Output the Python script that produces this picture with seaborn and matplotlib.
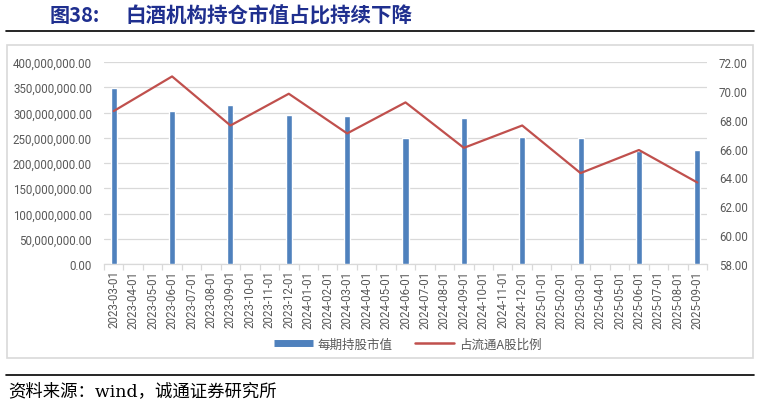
import matplotlib
matplotlib.use("Agg")
import matplotlib.pyplot as plt
import seaborn as sns
import pandas as pd
from matplotlib.lines import Line2D
from matplotlib.patches import Rectangle
from matplotlib.ticker import FuncFormatter, MultipleLocator

# ---------------- data ----------------
months = [f"{y}-{m:02d}-01" for y, m in
          [(2023, m) for m in range(3, 13)] + [(2024, m) for m in range(1, 13)] + [(2025, m) for m in range(1, 10)]]
quarters = ["2023-03-01", "2023-06-01", "2023-09-01", "2023-12-01",
            "2024-03-01", "2024-06-01", "2024-09-01", "2024-12-01",
            "2025-03-01", "2025-06-01", "2025-09-01"]
market_value = [348.5e6, 303e6, 315.5e6, 294.5e6, 292.5e6, 249e6,
                288.5e6, 251.5e6, 249e6, 224e6, 226e6]
ratio = [68.6, 71.0, 67.6, 69.8, 67.05, 69.2, 66.05, 67.6, 64.3, 65.9, 63.65]

bar_label = "每期持股市值"
line_label = "占流通A股比例"
title_num = "图38:"
title_text = "白酒机构持仓市值占比持续下降"
source_text = "资料来源：wind，诚通证券研究所"

# ---------------- style ----------------
sns.set_theme(style="white")
plt.rcParams['font.family'] = ['Roboto', 'Noto Sans CJK SC', 'DejaVu Sans']
BAR_C = "#4F81BD"
LINE_C = "#C0504D"
GRID_C = "#D9D9D9"
TXT_C = "#595959"

fig = plt.figure(figsize=(7.6, 4.06), dpi=100)
ax = fig.add_axes([104/760, 1 - 265/406, (707-104)/760, (265-63)/406])

df = pd.DataFrame({"month": quarters, "value": market_value, "ratio": ratio})
sns.barplot(data=df, x="month", y="value", order=months, color=BAR_C,
            width=0.31, saturation=1, ax=ax, zorder=3)

ax.set_ylim(0, 400e6)
ax.yaxis.set_major_locator(MultipleLocator(50e6))
ax.yaxis.set_major_formatter(FuncFormatter(lambda v, p: f"{v:,.2f}"))
ax.grid(axis="y", color=GRID_C, linewidth=0.9, zorder=0)
ax.set_axisbelow(True)
for s in ["top", "right", "left"]:
    ax.spines[s].set_visible(False)
ax.spines["bottom"].set_color(GRID_C)
ax.spines["bottom"].set_linewidth(0.9)
ax.set_xlabel("")
ax.set_ylabel("")
ax.set_xlim(-0.5, len(months) - 0.5)
ax.tick_params(axis="x", rotation=90, labelsize=8.3, labelcolor=TXT_C, length=0, pad=4)
ax.tick_params(axis="y", labelsize=8.3, labelcolor=TXT_C, length=0, pad=8.6)
ax.set_xticks(range(len(months)))
ax.set_xticklabels(months)
ax.set_xticks([i - 0.5 for i in range(len(months) + 1)], minor=True)
ax.tick_params(axis="x", which="minor", length=4, color=GRID_C, width=0.9, bottom=True)

ax2 = ax.twinx()
pos = [months.index(q) for q in quarters]
sns.lineplot(x=pos, y=ratio, ax=ax2, color=LINE_C, linewidth=1.6, zorder=4)
ax2.set_ylim(58, 72)
ax2.yaxis.set_major_locator(MultipleLocator(2))
ax2.yaxis.set_major_formatter(FuncFormatter(lambda v, p: f"{v:.2f}"))
for s in ["top", "right", "left", "bottom"]:
    ax2.spines[s].set_visible(False)
ax2.tick_params(axis="y", labelsize=8.3, labelcolor=TXT_C, length=0, pad=8.6)
ax2.grid(False)
ax2.set_xlim(-0.5, len(months) - 0.5)

# legend
handles = [Line2D([0], [0], color=BAR_C, linewidth=5, solid_capstyle="butt"),
           Line2D([0], [0], color=LINE_C, linewidth=1.8)]
fig.legend(handles, [bar_label, line_label], loc="center", bbox_to_anchor=(408/760, 1 - 345/406),
           ncol=2, frameon=False, handlelength=3.1, columnspacing=1.8, handletextpad=0.4,
           prop={"family": ["Noto Sans CJK SC", "DejaVu Sans"], "size": 9}, labelcolor=TXT_C)

# chart box
fig.patches.append(Rectangle((7/760, 1 - 359/406), (753-7)/760, (359-46)/406,
                             transform=fig.transFigure, fill=False, edgecolor=GRID_C, linewidth=1.2))

# title
fig.text(50/760, 1 - 16/406, title_num, ha="left", va="center", fontsize=14.5, fontweight="bold",
         color="#1F2F8F", family=["Noto Sans CJK SC", "DejaVu Sans"])
fig.text(125/760, 1 - 16/406, title_text, ha="left", va="center", fontsize=14.8, fontweight="bold",
         color="#1F2F8F", family=["Noto Sans CJK SC", "DejaVu Sans"])
fig.add_artist(Line2D([6/760, 754/760], [1 - 32/406, 1 - 32/406], transform=fig.transFigure,
                      color="black", linewidth=1.2))
fig.add_artist(Line2D([6/760, 754/760], [1 - 376/406, 1 - 376/406], transform=fig.transFigure,
                      color="black", linewidth=1.2))
fig.text(8/760, 1 - 392/406, source_text, ha="left", va="center", fontsize=12.5,
         color="black", family=["DejaVu Serif", "Noto Sans CJK SC"])

fig.savefig("out.png", dpi=100)
